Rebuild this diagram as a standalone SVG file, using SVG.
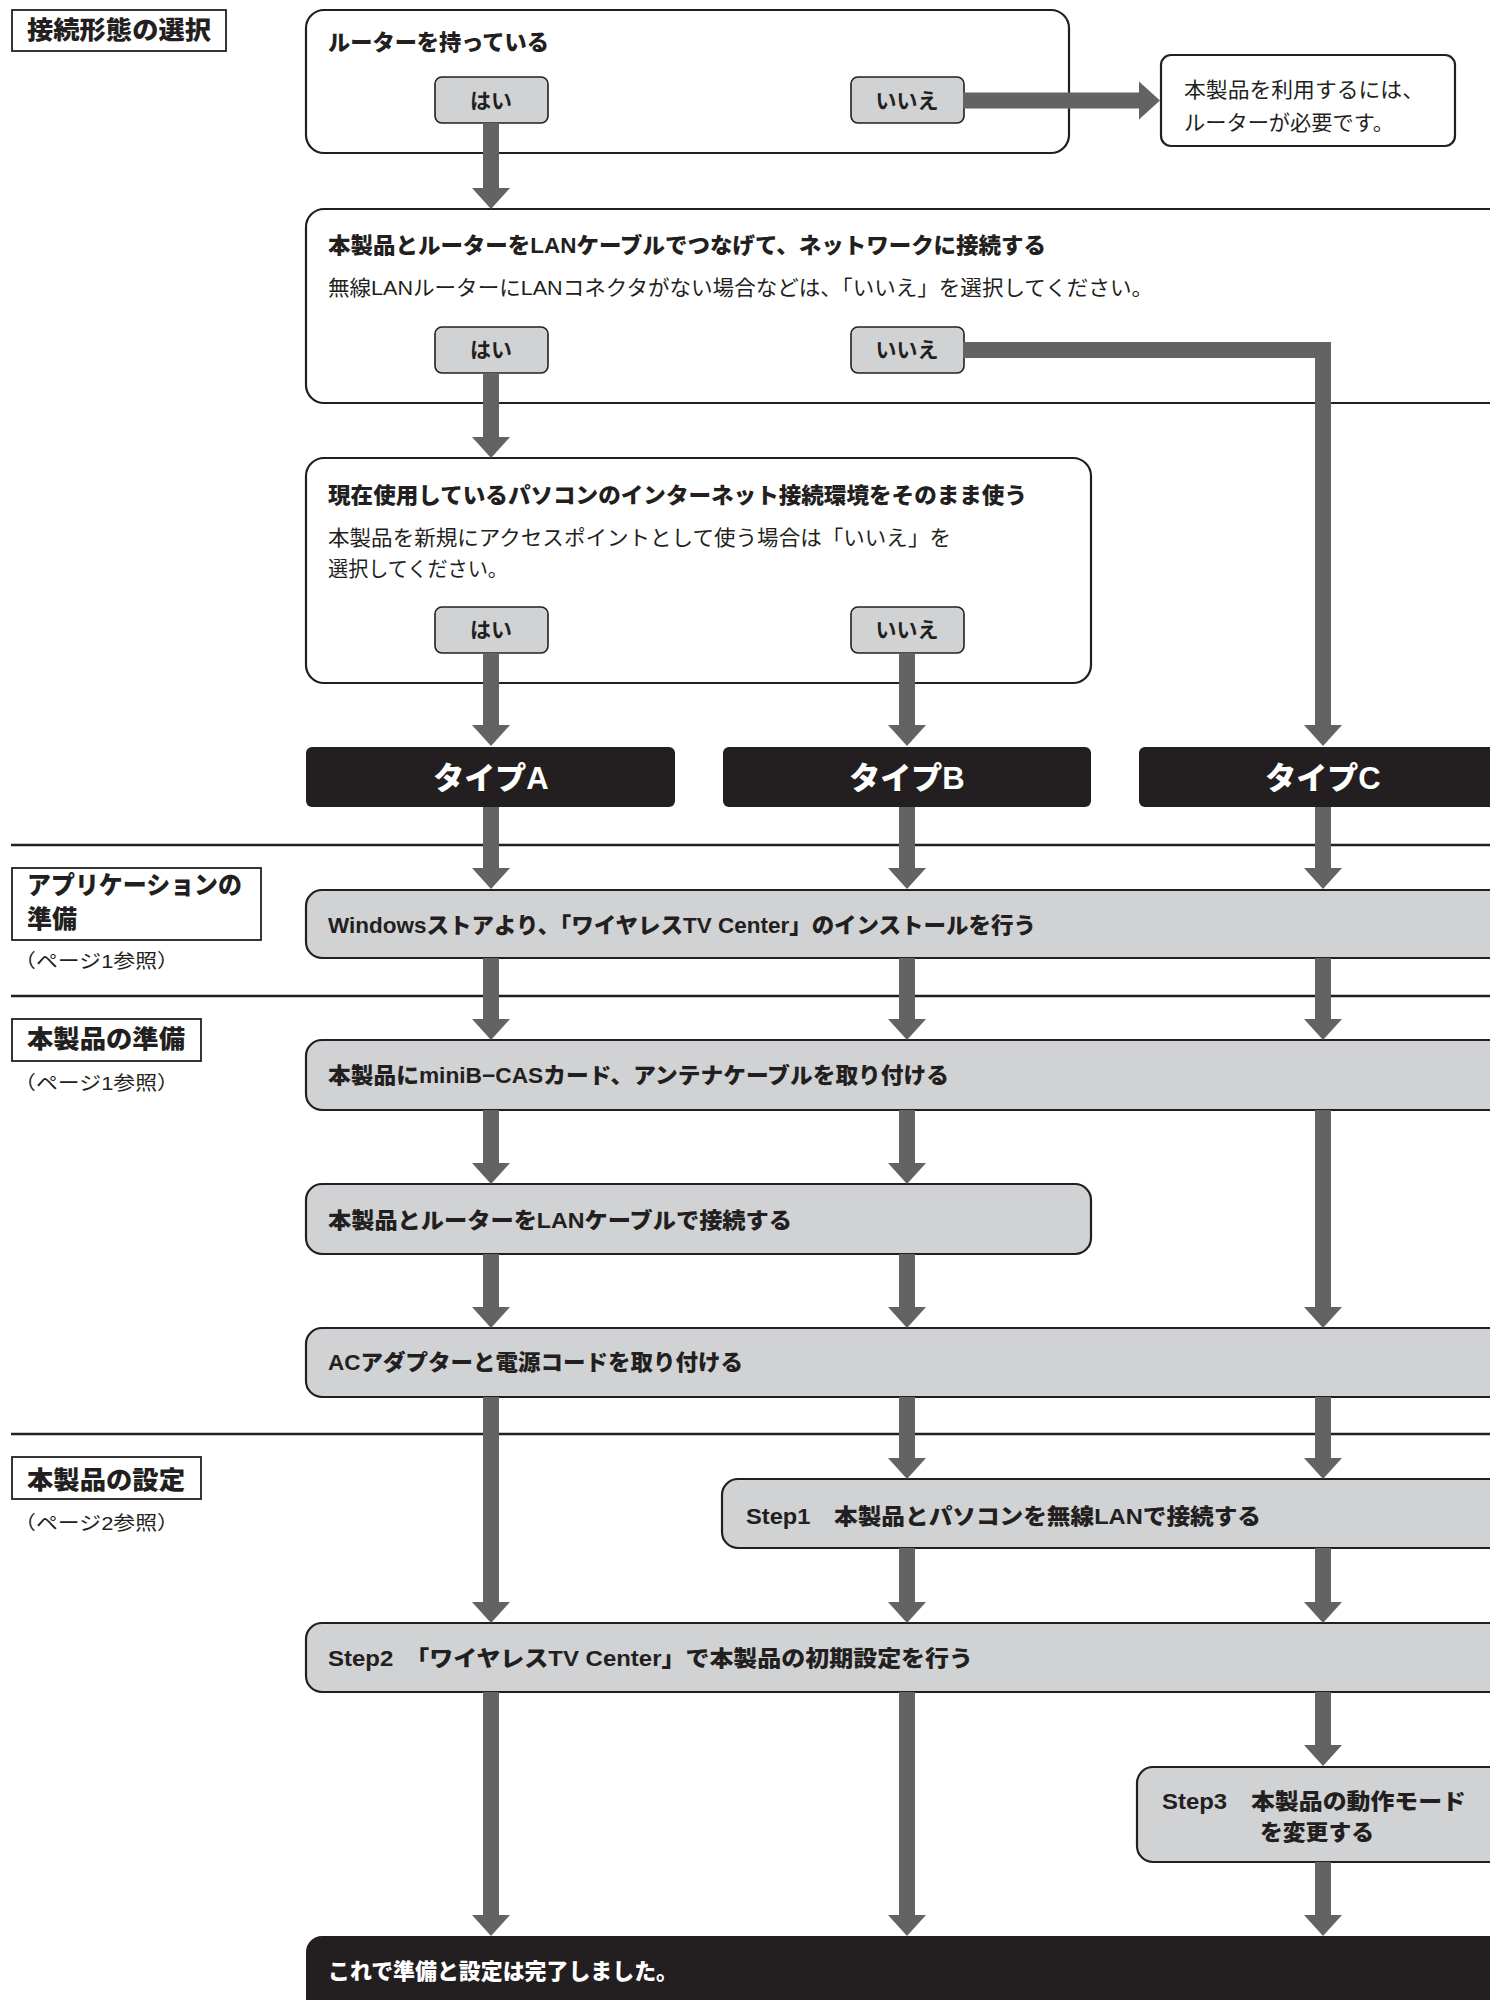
<svg xmlns="http://www.w3.org/2000/svg" width="1490" height="2000" viewBox="0 0 1490 2000">
<style>
text{font-family:"Liberation Sans","Noto Sans CJK JP",sans-serif;fill:#231f20}
.b{font-weight:900;font-size:22px}
.r{font-weight:normal;font-size:21px}
.lb{font-weight:900;font-size:25px}
.pg{font-weight:normal;font-size:19px}
.btn{font-weight:bold;font-size:21px;text-anchor:middle}
.ty{font-weight:900;font-size:31px;fill:#fff;text-anchor:middle}
.wt{font-weight:900;font-size:22px;fill:#fff}
.box{fill:#fff;stroke:#231f20;stroke-width:2.2}
.gbox{fill:#d1d2d4;stroke:#231f20;stroke-width:2.2}
.btnr{fill:#d1d2d4;stroke:#231f20;stroke-width:1.6}
.blk{fill:#231f20}
.lab{fill:#fff;stroke:#231f20;stroke-width:1.8}
.div{stroke:#231f20;stroke-width:2.6}
.ar{stroke:#636363;stroke-width:16;fill:none;stroke-linejoin:miter;marker-end:url(#ah)}
</style>
<defs>
<marker id="ah" markerUnits="userSpaceOnUse" markerWidth="22" markerHeight="40" viewBox="0 -20 22 40" refX="0" refY="0" orient="auto">
<path d="M0,-19 L21,0 L0,19 Z" fill="#636363"/>
</marker>
</defs>

<g id="dividers">
<line class="div" x1="11" y1="845" x2="1490" y2="845"/>
<line class="div" x1="11" y1="996" x2="1490" y2="996"/>
<line class="div" x1="11" y1="1434" x2="1490" y2="1434"/>
</g>

<g id="label-select">
<rect class="lab" x="12" y="10" width="214" height="41"/>
<text class="lb" x="27" y="39" textLength="184" lengthAdjust="spacingAndGlyphs">接続形態の選択</text>
</g>
<g id="label-app">
<rect class="lab" x="12" y="868" width="249" height="72"/>
<text class="lb" x="27" y="894" textLength="215" lengthAdjust="spacingAndGlyphs">アプリケーションの</text>
<text class="lb" x="27" y="928">準備</text>
<text class="pg" x="14" y="968" textLength="165" lengthAdjust="spacingAndGlyphs">（ページ1参照）</text>
</g>
<g id="label-prep">
<rect class="lab" x="12" y="1019" width="189" height="42"/>
<text class="lb" x="27" y="1048" textLength="158" lengthAdjust="spacingAndGlyphs">本製品の準備</text>
<text class="pg" x="14" y="1090" textLength="165" lengthAdjust="spacingAndGlyphs">（ページ1参照）</text>
</g>
<g id="label-setup">
<rect class="lab" x="12" y="1457" width="189" height="42"/>
<text class="lb" x="27" y="1489" textLength="158" lengthAdjust="spacingAndGlyphs">本製品の設定</text>
<text class="pg" x="14" y="1530" textLength="165" lengthAdjust="spacingAndGlyphs">（ページ2参照）</text>
</g>

<g id="q1">
<rect class="box" x="306" y="10" width="763" height="143" rx="18"/>
<text class="b" x="328" y="50" textLength="221" lengthAdjust="spacingAndGlyphs">ルーターを持っている</text>
<rect class="btnr" x="435" y="77" width="113" height="46" rx="7"/>
<text class="btn" x="491" y="108">はい</text>
<rect class="btnr" x="851" y="77" width="113" height="46" rx="7"/>
<text class="btn" x="907" y="108">いいえ</text>
</g>
<g id="note">
<rect class="box" x="1161" y="55" width="294" height="91" rx="10"/>
<text class="r" x="1184" y="97" textLength="240" lengthAdjust="spacingAndGlyphs">本製品を利用するには、</text>
<text class="r" x="1184" y="130" textLength="210" lengthAdjust="spacingAndGlyphs">ルーターが必要です。</text>
</g>
<g id="q2">
<rect class="box" x="306" y="209" width="1220" height="194" rx="18"/>
<text class="b" x="328" y="253" textLength="718" lengthAdjust="spacingAndGlyphs">本製品とルーターをLANケーブルでつなげて、ネットワークに接続する</text>
<text class="r" x="328" y="295" textLength="825" lengthAdjust="spacingAndGlyphs">無線LANルーターにLANコネクタがない場合などは、「いいえ」を選択してください。</text>
<rect class="btnr" x="435" y="327" width="113" height="46" rx="7"/>
<text class="btn" x="491" y="357">はい</text>
<rect class="btnr" x="851" y="327" width="113" height="46" rx="7"/>
<text class="btn" x="907" y="357">いいえ</text>
</g>
<g id="q3">
<rect class="box" x="306" y="458" width="785" height="225" rx="18"/>
<text class="b" x="328" y="503" textLength="699" lengthAdjust="spacingAndGlyphs">現在使用しているパソコンのインターネット接続環境をそのまま使う</text>
<text class="r" x="328" y="545" textLength="623" lengthAdjust="spacingAndGlyphs">本製品を新規にアクセスポイントとして使う場合は「いいえ」を</text>
<text class="r" x="328" y="576" textLength="180" lengthAdjust="spacingAndGlyphs">選択してください。</text>
<rect class="btnr" x="435" y="607" width="113" height="46" rx="7"/>
<text class="btn" x="491" y="637">はい</text>
<rect class="btnr" x="851" y="607" width="113" height="46" rx="7"/>
<text class="btn" x="907" y="637">いいえ</text>
</g>

<g id="typeA">
<rect class="blk" x="306" y="747" width="369" height="60" rx="6"/>
<text class="ty" x="491" y="789">タイプA</text>
</g>
<g id="typeB">
<rect class="blk" x="723" y="747" width="368" height="60" rx="6"/>
<text class="ty" x="907" y="789">タイプB</text>
</g>
<g id="typeC">
<rect class="blk" x="1139" y="747" width="400" height="60" rx="6"/>
<text class="ty" x="1323" y="789">タイプC</text>
</g>

<g id="install">
<rect class="gbox" x="306" y="890" width="1220" height="68" rx="16"/>
<text class="b" x="328" y="933" textLength="708" lengthAdjust="spacingAndGlyphs">Windowsストアより、「ワイヤレスTV Center」のインストールを行う</text>
</g>
<g id="card">
<rect class="gbox" x="306" y="1040" width="1220" height="70" rx="16"/>
<text class="b" x="328" y="1083" textLength="621" lengthAdjust="spacingAndGlyphs">本製品にminiB−CASカード、アンテナケーブルを取り付ける</text>
</g>
<g id="lan">
<rect class="gbox" x="306" y="1184" width="785" height="70" rx="16"/>
<text class="b" x="328" y="1228" textLength="464" lengthAdjust="spacingAndGlyphs">本製品とルーターをLANケーブルで接続する</text>
</g>
<g id="ac">
<rect class="gbox" x="306" y="1328" width="1220" height="69" rx="16"/>
<text class="b" x="328" y="1370" textLength="415" lengthAdjust="spacingAndGlyphs">ACアダプターと電源コードを取り付ける</text>
</g>
<g id="step1">
<rect class="gbox" x="722" y="1479" width="804" height="69" rx="16"/>
<text class="b" x="746" y="1524" textLength="515" lengthAdjust="spacingAndGlyphs">Step1　本製品とパソコンを無線LANで接続する</text>
</g>
<g id="step2">
<rect class="gbox" x="306" y="1623" width="1220" height="69" rx="16"/>
<text class="b" x="328" y="1666" textLength="645" lengthAdjust="spacingAndGlyphs">Step2　「ワイヤレスTV Center」で本製品の初期設定を行う</text>
</g>
<g id="step3">
<rect class="gbox" x="1137" y="1767" width="389" height="95" rx="16"/>
<text class="b" x="1162" y="1809" textLength="304" lengthAdjust="spacingAndGlyphs">Step3　本製品の動作モード</text>
<text class="b" x="1260" y="1840" textLength="114" lengthAdjust="spacingAndGlyphs">を変更する</text>
</g>
<g id="done">
<rect class="blk" x="306" y="1936" width="1220" height="100" rx="16"/>
<text class="wt" x="328" y="1979" textLength="350" lengthAdjust="spacingAndGlyphs">これで準備と設定は完了しました。</text>
</g>

<g id="connectors">
<path class="ar" d="M963,100.5 H1139"/>
<path class="ar" d="M491,123 V188"/>
<path class="ar" d="M491,373 V437"/>
<path class="ar" d="M963,350 H1323 V725"/>
<path class="ar" d="M491,653 V725"/>
<path class="ar" d="M907,653 V725"/>
<path class="ar" d="M491,807 V868"/>
<path class="ar" d="M907,807 V868"/>
<path class="ar" d="M1323,807 V868"/>
<path class="ar" d="M491,958 V1019"/>
<path class="ar" d="M907,958 V1019"/>
<path class="ar" d="M1323,958 V1019"/>
<path class="ar" d="M491,1110 V1163"/>
<path class="ar" d="M907,1110 V1163"/>
<path class="ar" d="M1323,1110 V1307"/>
<path class="ar" d="M491,1254 V1307"/>
<path class="ar" d="M907,1254 V1307"/>
<path class="ar" d="M491,1397 V1602"/>
<path class="ar" d="M907,1397 V1458"/>
<path class="ar" d="M1323,1397 V1458"/>
<path class="ar" d="M907,1548 V1602"/>
<path class="ar" d="M1323,1548 V1602"/>
<path class="ar" d="M491,1692 V1915"/>
<path class="ar" d="M907,1692 V1915"/>
<path class="ar" d="M1323,1692 V1745"/>
<path class="ar" d="M1323,1862 V1915"/>
</g>
</svg>
